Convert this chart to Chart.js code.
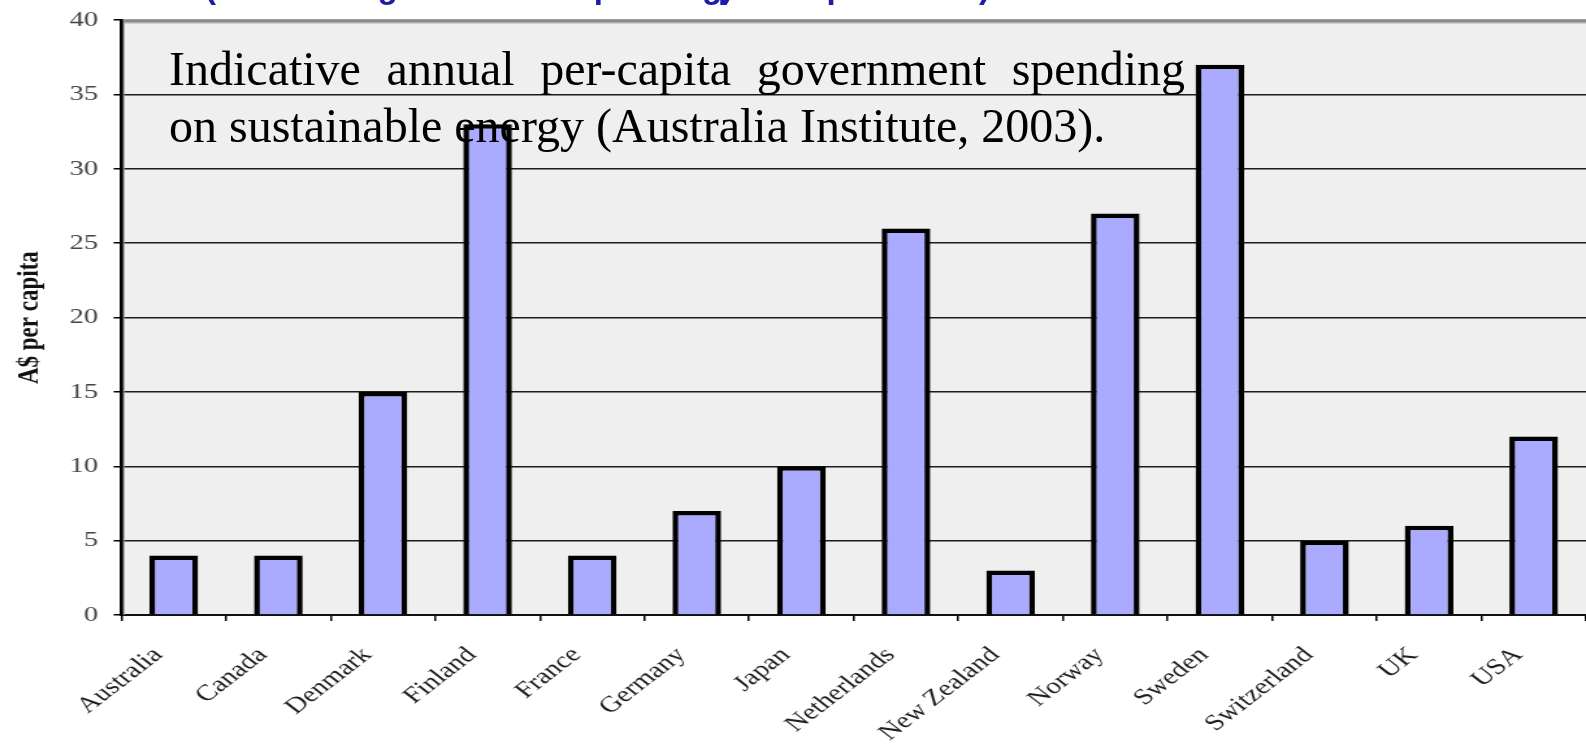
<!DOCTYPE html>
<html>
<head>
<meta charset="utf-8">
<script src="https://cdn.jsdelivr.net/npm/chart.js@4.4.1/dist/chart.umd.min.js"></script>
<style>
  html, body { margin: 0; padding: 0; background: #ffffff; overflow: hidden; }
  body { width: 1586px; height: 746px; position: relative; }
  #stretch { position: absolute; left: 0; top: 0; width: 1220px; height: 746px;
             transform: scaleX(1.3); transform-origin: 0 0; }
  #note { position: absolute; left: 169px; top: 40px; font-family: "Liberation Serif", "Times New Roman", serif;
          font-size: 48px; line-height: 57px; color: #000; }
  #note .l1 { width: 1016px; text-align: justify; text-align-last: justify; }
  #note .l2 { white-space: nowrap; }
  .blue { position: absolute; top: -30px; font-family: "Liberation Sans", Arial, sans-serif; font-weight: bold;
          font-size: 33px; line-height: 33px; color: #1c1ca6; white-space: nowrap;
          text-align: justify; text-align-last: justify; }
</style>
</head>
<body>
<div id="stretch"><canvas id="c"></canvas></div>
<div class="blue" style="left:205px;width:505px;">(Indicative government spending)</div>
<div class="blue" style="left:718px;width:272px;">per capita 2003)</div>
<div id="note">
  <div class="l1">Indicative annual per-capita government spending</div>
  <div class="l2">on sustainable energy (Australia Institute, 2003).</div>
</div>
<script>
const categories = ['Australia', 'Canada', 'Denmark', 'Finland', 'France', 'Germany', 'Japan',
                    'Netherlands', 'New Zealand', 'Norway', 'Sweden', 'Switzerland', 'UK', 'USA'];
const spending = [4, 4, 15, 33, 4, 7, 10, 26, 3, 27, 37, 5, 6, 12];
const yMin = 0;
const yMax = 40;
const yStep = 5;
const yTitle = 'A$ per capita';

const plotFrame = {
  id: 'plotFrame',
  beforeDraw(chart) {
    const { ctx, chartArea: a } = chart;
    ctx.save();
    ctx.fillStyle = '#efefef';
    ctx.fillRect(a.left, a.top, a.right - a.left, a.bottom - a.top);
    ctx.restore();
  },
  afterDraw(chart) {
    const { ctx, chartArea: a } = chart;
    ctx.save();
    ctx.fillStyle = '#8a8a8a';
    ctx.fillRect(a.left, a.top - 1, a.right - a.left, 3.5);
    ctx.fillStyle = '#c4c4c4';
    ctx.fillRect(a.left, a.top + 2.5, a.right - a.left, 1);
    ctx.fillStyle = '#9a9a9a';
    ctx.fillRect(a.left + 1.2, a.top, 1.2, a.bottom - a.top);
    ctx.fillStyle = '#000';
    ctx.fillRect(a.left - 1.2, a.top - 1, 2.4, a.bottom - a.top + 1);
    ctx.restore();
  }
};

new Chart(document.getElementById('c'), {
  type: 'bar',
  data: {
    labels: categories,
    datasets: [{
      data: spending,
      backgroundColor: '#aaaaff',
      borderColor: '#000000',
      borderWidth: 4.5,
      borderSkipped: 'bottom',
      barPercentage: 0.465,
      categoryPercentage: 1.0
    }]
  },
  options: {
    responsive: true,
    maintainAspectRatio: false,
    animation: false,
    devicePixelRatio: 1,
    layout: { padding: { top: 20.2, left: 0, right: 0, bottom: 0 } },
    plugins: { legend: { display: false }, tooltip: { enabled: false } },
    scales: {
      x: {
        offset: true,
        grid: { offset: true, drawOnChartArea: false, drawTicks: true, tickLength: 6,
                color: '#000', lineWidth: 1.5 },
        border: { display: true, color: '#111', width: 2 },
        ticks: { minRotation: 45, maxRotation: 45, padding: 21, labelOffset: -12,
                 color: '#1e1e1e', font: { family: 'Liberation Serif', size: 22.5 } },
        afterFit(scale) { scale.height = 131; scale.paddingLeft = 0; scale.paddingRight = 0; }
      },
      y: {
        min: yMin, max: yMax,
        grid: { color: (c) => (c.tick && c.tick.value === yMax) ? 'rgba(0,0,0,0)' : '#1c1c1c',
                lineWidth: 1.5, drawTicks: true, tickLength: 6, tickColor: '#000' },
        border: { display: true, color: '#000', width: 2.4 },
        ticks: { stepSize: yStep, padding: 12, color: '#444444',
                 font: { family: 'Liberation Serif', size: 22 } },
        title: { display: true, text: yTitle, color: '#111', padding: { top: 9, bottom: 0 },
                 font: { family: 'Liberation Serif', size: 23, weight: 'bold' } },
        afterFit(scale) { scale.width = 93.4; scale.paddingTop = 0; scale.paddingBottom = 0; }
      }
    }
  },
  plugins: [plotFrame]
});
</script>
</body>
</html>
